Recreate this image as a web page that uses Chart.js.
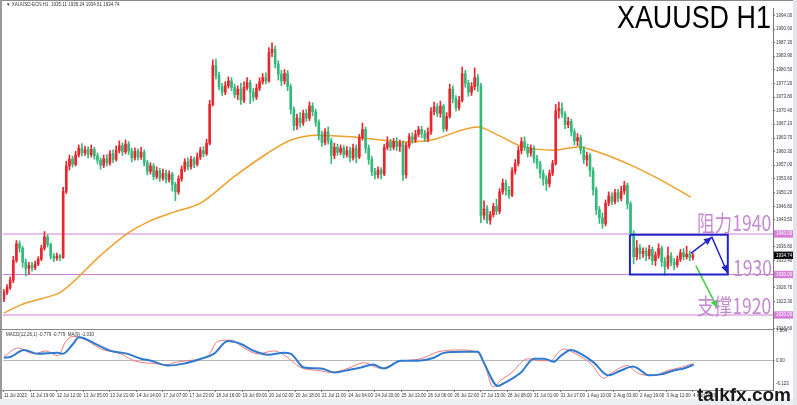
<!DOCTYPE html>
<html><head><meta charset="utf-8">
<script src="https://cdn.jsdelivr.net/npm/chart.js@4/dist/chart.umd.min.js"></script>
<style>
html,body{margin:0;padding:0}
body{width:797px;height:405px;background:#fff;position:relative;overflow:hidden;font-family:"Liberation Sans",Arial,sans-serif}
canvas{position:absolute;left:0}
#main{top:0}
#macd{top:327px}
.abs{position:absolute;white-space:nowrap}
.hdr{left:6px;top:2px;font-size:4.5px;color:#333;line-height:6px}
.title{left:617px;top:1px;font-size:32px;line-height:32px;color:#000;transform:scaleX(0.84);transform-origin:0 0}
.zh{font-family:"Noto Sans CJK SC",sans-serif;font-size:22px;line-height:22px;color:#c48ad0;transform:scaleX(0.8);transform-origin:0 0}
.wm{left:697px;top:385px;font-size:19px;line-height:19px;font-weight:bold;color:#1a1a1a}
.mlab{left:6px;top:332px;font-size:4.5px;color:#333;line-height:6px}
.line{position:absolute;background:#8a8a8a}
</style></head><body>
<canvas id="main" width="797" height="336" style="width:797px;height:336px"></canvas>
<canvas id="macd" width="797" height="78" style="width:797px;height:78px"></canvas>
<div class="line" style="left:0;top:0;width:797px;height:1px"></div>
<div class="line" style="left:0;top:0;width:2px;height:399px;background:#9a9a9a"></div>
<div class="line" style="left:0;top:329px;width:773px;height:1px"></div>
<div class="line" style="left:0;top:390px;width:773px;height:1px"></div>
<div class="line" style="left:0;top:399px;width:797px;height:6px;background:#eceef1"></div>
<div class="line" style="left:793px;top:0;width:4px;height:405px;background:#e4e6ea"></div>
<div class="abs hdr">▼ XAUUSD-ECN,H1&nbsp; 1935.11 1935.24 1934.51 1934.74</div>
<div class="abs mlab">MACD(12,26,1) -0.779 -0.779 &nbsp;MA(9) -1.030</div>
<div class="abs title">XAUUSD H1</div>
<div class="abs zh" style="left:697px;top:210px">阻力1940</div>
<div class="abs zh" style="left:733px;top:255px">1930</div>
<div class="abs zh" style="left:697px;top:293px">支撑1920</div>
<div class="abs wm">talkfx.com</div>
<script>
// ---------- DATA ----------
const opens = [
1924.0,1925.5,1926.8,1928.6,1933.5,1937.6,1936.5,1933.0,1931.5,1932.3,
1931.7,1932.6,1933.8,1936.5,1939.3,1937.4,1934.5,1934.0,1934.6,1934.2,
1950.5,1956.8,1958.5,1957.2,1959.5,1961.2,1960.0,1960.8,1959.6,1960.9,
1959.3,1958.2,1957.0,1958.6,1957.5,1959.8,1958.4,1960.6,1961.8,1960.3,
1962.2,1960.5,1958.8,1960.4,1959.0,1960.2,1957.6,1955.5,1956.8,1954.2,
1955.6,1953.8,1955.0,1953.4,1954.8,1952.2,1950.4,1953.6,1956.0,1957.8,
1956.6,1958.4,1957.2,1959.0,1960.6,1959.8,1962.4,1972.0,1981.6,1979.2,
1976.4,1975.0,1976.6,1977.8,1976.2,1974.4,1975.8,1973.0,1976.2,1977.4,
1975.0,1973.8,1976.0,1977.6,1978.6,1977.8,1984.8,1985.6,1982.0,1979.4,
1977.8,1979.6,1976.4,1970.8,1966.8,1968.6,1967.4,1969.8,1968.6,1971.6,
1970.2,1967.6,1964.4,1962.6,1965.2,1963.0,1959.4,1961.4,1960.2,1961.2,
1959.6,1960.6,1958.8,1961.2,1959.0,1963.8,1965.8,1961.2,1958.4,1955.4,
1954.6,1955.8,1954.8,1961.4,1962.6,1961.4,1962.8,1961.6,1962.4,1954.6,
1961.8,1964.0,1963.2,1964.6,1965.8,1964.8,1963.6,1965.2,1970.2,1971.4,
1969.8,1971.6,1966.0,1969.0,1975.8,1973.4,1971.2,1973.0,1979.6,1977.2,
1975.0,1976.4,1978.6,1976.6,1944.6,1946.2,1943.4,1944.8,1946.8,1945.6,
1950.4,1952.6,1950.8,1949.6,1955.6,1957.4,1960.6,1962.8,1961.4,1960.0,
1961.2,1958.6,1957.4,1955.0,1953.6,1952.4,1955.0,1957.4,1970.4,1971.0,
1969.6,1967.0,1967.8,1965.2,1963.0,1963.8,1960.8,1958.4,1959.4,1955.6,
1951.0,1946.0,1944.0,1942.6,1947.6,1949.4,1948.0,1950.2,1948.8,1950.6,
1952.0,1947.4,1940.2,1934.4,1936.6,1935.2,1935.8,1934.6,1936.2,1933.4,
1934.8,1936.4,1933.2,1932.0,1934.6,1933.0,1932.4,1933.8,1935.4,1934.4,
1935.0,1934.2];
const closes = [
1925.5,1926.8,1928.6,1933.5,1937.6,1936.5,1933.0,1931.5,1932.3,1931.7,
1932.6,1933.8,1936.5,1939.3,1937.4,1934.5,1934.0,1934.6,1934.2,1950.5,
1956.8,1958.5,1957.2,1959.5,1961.2,1960.0,1960.8,1959.6,1960.9,1959.3,
1958.2,1957.0,1958.6,1957.5,1959.8,1958.4,1960.6,1961.8,1960.3,1962.2,
1960.5,1958.8,1960.4,1959.0,1960.2,1957.6,1955.5,1956.8,1954.2,1955.6,
1953.8,1955.0,1953.4,1954.8,1952.2,1950.4,1953.6,1956.0,1957.8,1956.6,
1958.4,1957.2,1959.0,1960.6,1959.8,1962.4,1972.0,1981.6,1979.2,1976.4,
1975.0,1976.6,1977.8,1976.2,1974.4,1975.8,1973.0,1976.2,1977.4,1975.0,
1973.8,1976.0,1977.6,1978.6,1977.8,1984.8,1985.6,1982.0,1979.4,1977.8,
1979.6,1976.4,1970.8,1966.8,1968.6,1967.4,1969.8,1968.6,1971.6,1970.2,
1967.6,1964.4,1962.6,1965.2,1963.0,1959.4,1961.4,1960.2,1961.2,1959.6,
1960.6,1958.8,1961.2,1959.0,1963.8,1965.8,1961.2,1958.4,1955.4,1954.6,
1955.8,1954.8,1961.4,1962.6,1961.4,1962.8,1961.6,1962.4,1954.6,1961.8,
1964.0,1963.2,1964.6,1965.8,1964.8,1963.6,1965.2,1970.2,1971.4,1969.8,
1971.6,1966.0,1969.0,1975.8,1973.4,1971.2,1973.0,1979.6,1977.2,1975.0,
1976.4,1978.6,1976.6,1944.6,1946.2,1943.4,1944.8,1946.8,1945.6,1950.4,
1952.6,1950.8,1949.6,1955.6,1957.4,1960.6,1962.8,1961.4,1960.0,1961.2,
1958.6,1957.4,1955.0,1953.6,1952.4,1955.0,1957.4,1970.4,1971.0,1969.6,
1967.0,1967.8,1965.2,1963.0,1963.8,1960.8,1958.4,1959.4,1955.6,1951.0,
1946.0,1944.0,1942.6,1947.6,1949.4,1948.0,1950.2,1948.8,1950.6,1952.0,
1947.4,1940.2,1934.4,1936.6,1935.2,1935.8,1934.6,1936.2,1933.4,1934.8,
1936.4,1933.2,1932.0,1934.6,1933.0,1932.4,1933.8,1935.4,1934.4,1935.0,
1934.2,1934.74];
const highs = [
1926.3,1927.5,1929.4,1934.5,1938.4,1938.3,1937.0,1933.8,1933.0,1933.0,
1933.3,1934.4,1937.2,1940.6,1939.8,1937.8,1935.2,1935.3,1935.0,1951.5,
1958.0,1959.5,1959.2,1960.4,1962.0,1962.3,1961.7,1961.5,1962.0,1961.4,
1960.0,1958.8,1959.5,1959.6,1960.6,1960.8,1961.8,1963.0,1962.5,1963.2,
1962.8,1961.2,1961.3,1961.0,1961.4,1960.8,1958.2,1957.6,1957.4,1956.6,
1956.2,1956.0,1955.8,1955.6,1955.2,1952.8,1954.4,1956.8,1958.6,1958.8,
1959.2,1959.0,1960.0,1961.4,1961.6,1963.4,1973.0,1983.0,1983.2,1980.0,
1977.2,1977.6,1978.8,1978.6,1977.0,1976.6,1977.2,1977.6,1978.6,1978.0,
1976.0,1977.0,1978.6,1979.6,1979.8,1986.0,1987.2,1986.4,1982.8,1980.4,
1980.6,1980.4,1977.0,1971.4,1969.6,1970.0,1970.6,1970.8,1972.6,1972.4,
1970.8,1968.2,1965.4,1966.0,1966.4,1963.6,1962.4,1962.2,1962.0,1961.8,
1961.6,1961.4,1962.2,1962.0,1964.6,1967.4,1966.4,1962.0,1959.2,1956.2,
1956.6,1956.4,1962.2,1964.0,1963.4,1963.6,1963.8,1963.2,1963.0,1962.6,
1964.8,1965.0,1965.6,1966.6,1966.6,1965.6,1966.2,1971.2,1972.6,1972.2,
1972.8,1972.0,1970.0,1977.0,1976.6,1974.2,1974.0,1981.2,1980.4,1978.0,
1977.4,1981.0,1979.4,1977.2,1948.2,1947.0,1945.6,1947.6,1948.6,1951.2,
1953.6,1953.4,1951.8,1956.4,1958.4,1961.6,1963.8,1964.0,1962.2,1962.0,
1961.8,1959.4,1958.0,1955.8,1954.4,1955.8,1958.2,1972.0,1972.6,1972.4,
1970.2,1968.8,1968.4,1966.0,1964.8,1964.4,1961.6,1960.2,1960.0,1956.4,
1951.6,1946.8,1945.2,1948.4,1950.4,1950.2,1951.0,1951.0,1951.8,1953.0,
1952.6,1948.0,1940.8,1938.4,1937.4,1936.6,1936.6,1937.2,1936.8,1935.6,
1937.6,1937.0,1934.2,1936.8,1935.4,1934.0,1934.6,1936.2,1936.4,1937.0,
1935.8,1935.24];
const lows = [
1923.3,1925.0,1926.3,1928.0,1933.0,1935.5,1931.8,1929.6,1930.0,1930.8,
1931.2,1932.2,1933.4,1936.0,1936.8,1933.8,1933.2,1933.5,1933.4,1934.0,
1950.0,1955.8,1956.5,1956.8,1959.0,1959.3,1959.4,1958.8,1959.0,1958.5,
1957.4,1956.0,1956.4,1956.8,1957.0,1957.6,1958.0,1960.0,1959.4,1959.8,
1959.6,1957.8,1958.2,1958.2,1958.4,1956.8,1954.6,1954.8,1953.4,1953.6,
1953.0,1953.2,1952.6,1952.8,1950.6,1948.2,1949.8,1953.0,1955.4,1955.8,
1956.0,1956.4,1956.8,1958.4,1959.0,1959.4,1962.0,1971.6,1978.2,1975.6,
1974.2,1974.4,1976.0,1975.4,1973.6,1973.2,1972.0,1972.4,1975.6,1972.2,
1972.8,1973.2,1975.4,1977.0,1977.0,1977.4,1983.8,1981.0,1978.0,1976.6,
1977.0,1975.4,1969.6,1965.6,1965.8,1966.4,1966.8,1967.8,1968.0,1969.2,
1966.6,1963.2,1961.6,1962.0,1962.2,1957.4,1958.6,1959.4,1959.6,1958.8,
1959.0,1957.8,1958.2,1957.6,1958.6,1963.2,1960.0,1957.2,1954.4,1953.6,
1953.8,1953.6,1954.4,1960.8,1960.6,1960.8,1960.6,1960.4,1953.2,1953.8,
1961.2,1962.4,1962.6,1964.0,1963.8,1962.8,1962.8,1964.6,1969.4,1969.0,
1968.8,1965.2,1965.4,1968.6,1972.4,1970.4,1970.6,1972.6,1976.2,1974.0,
1974.2,1975.6,1975.2,1942.8,1943.6,1942.6,1942.4,1944.2,1944.8,1945.0,
1949.8,1949.6,1948.8,1949.2,1954.8,1956.8,1959.8,1960.6,1959.0,1959.2,
1957.6,1956.2,1953.8,1952.0,1950.8,1951.6,1954.4,1957.0,1968.6,1968.8,
1966.0,1966.2,1964.2,1962.0,1961.8,1959.8,1957.4,1956.8,1954.2,1949.6,
1944.8,1942.6,1941.4,1942.0,1947.0,1947.2,1947.4,1948.0,1948.2,1949.8,
1946.2,1939.4,1932.6,1933.6,1933.8,1934.2,1933.4,1933.8,1932.4,1932.2,
1934.0,1932.0,1929.8,1931.4,1932.2,1931.2,1931.8,1933.2,1933.6,1933.8,
1933.4,1933.6];
// hour index of each candle (2-hour candles over the hourly axis)
const candleHours = closes.map((_, i) => i * 2);

// moving average (orange)
const maHours  = [0,10.9,23.7,36.6,62.2,79.5,92.4,109,126.4,147.5,169.4,184.1,201.4,222.6,241.8,254.7,273.9,304.1,316.9,331.7,352.8,368.2,382.9,402.2,421.5,440.7];
const maValues = [1920.5,1922.5,1924.0,1925.7,1934.8,1940.2,1943.0,1945.4,1947.7,1954.1,1960.0,1963.2,1964.4,1964.0,1963.2,1962.7,1963.2,1966.4,1964.4,1961.7,1960.7,1961.5,1960.0,1957.0,1953.3,1949.1];

// horizontal levels
const levels = [1940.0, 1930.0, 1920.0];
const currentPrice = 1934.74;

// range box and projection arrows (hour, price)
const boxHours  = [401.6, 464.4, 464.4, 401.6, 401.6];
const boxPrices = [1939.8, 1939.8, 1930.0, 1930.0, 1939.8];
const upArrowHours  = [440.7, 454.2, 464.3];
const upArrowPrices = [1935.2, 1939.2, 1930.3];
const dnArrowHours  = [443.9, 457.8];
const dnArrowPrices = [1932.2, 1921.7];

// MACD pane
const macdHours = [0,4.5,12.8,21.8,34.6,37.8,44.3,48.1,51.3,57.7,68.6,79.5,87.9,94.3,105.2,115.5,126.4,134.7,143.7,152,160.4,169.4,179.6,184.1,192.5,203.4,211.7,222.6,229,236.7,243.8,254.7,265.6,275.9,282.3,295.1,304.1,307.9,316.9,320.8,331.7,340,346.4,352.8,357.3,363.7,370.2,378.5,387.5,395.8,403.5,406.7,413.8,421.5,429.8,436.2,442.6];
const macdBlue  = [0.77,1.03,2.82,1.79,2.05,1.79,4.36,6.15,5.90,4.62,2.56,1.79,0.51,0,-1.28,-0.77,0.51,1.79,5.13,4.36,2.56,1.54,2.05,1.79,-1.79,-2.05,-3.08,-2.31,-1.79,-1.03,-2.05,0,0,0.77,2.05,2.31,2.31,-0.51,-6.67,-5.90,-3.08,0.51,0.51,-0.26,1.28,2.82,1.79,-0.51,-3.85,-2.56,-1.54,-2.05,-3.85,-3.59,-2.56,-2.05,-1.03];
const sigHours  = [0,9.0,19.2,26.9,34.6,39.8,44.9,53.9,62.2,75.1,83.4,96.2,105.2,109.1,118.0,130.9,137.3,145.6,154.0,163.0,173.2,179.6,190.5,201.4,209.8,220.7,230.9,241.8,252.8,267.5,278.4,293.2,304.1,309.2,313.7,318.8,325.2,336.2,344.5,350.9,355.4,359.2,365.7,376.6,384.9,389.4,400.3,404.2,408.6,417.0,426.0,434.3,441.9];
const macdRed   = [1.03,3.33,1.79,2.56,1.28,5.13,6.41,5.13,3.08,1.79,0,-0.77,-1.03,-0.51,0,1.28,5.13,5.38,3.33,1.79,2.56,1.54,-1.79,-2.56,-3.08,-2.05,-0.51,-2.05,-0.26,0.51,2.31,2.82,2.05,-2.05,-6.92,-5.13,-3.33,0.51,0,0,2.05,3.08,2.05,-0.77,-4.62,-3.33,-1.28,-2.56,-3.59,-3.85,-2.56,-1.79,-0.77];

// axis ticks
const yTickValues = [1994.00,1990.60,1987.30,1983.90,1980.50,1977.20,1973.80,1970.40,1967.10,1963.70,1960.30,1957.00,1953.60,1950.20,1946.80,1943.50,1940.00,1936.80,1934.74,1933.40,1930.00,1926.70,1923.30,1920.00,1916.60];
const macdTickValues = [7.864, 0, -6.123];
const macdTickLabels = ['7.864', '0.00', '-6.123'];
const xTickHours = [0,17,34,51,68,85,102,119,136,153,170,187,204,221,238,255,272,289,306,323,340,357,374,391,408,425,442];
const xTickLabels = ['11 Jul 2023','11 Jul 19:00','12 Jul 12:00','13 Jul 05:00','13 Jul 21:00','14 Jul 14:00','17 Jul 07:00','17 Jul 23:00','18 Jul 16:00','19 Jul 09:00','20 Jul 02:00','20 Jul 18:00','21 Jul 11:00','24 Jul 04:00','24 Jul 20:00','25 Jul 13:00','26 Jul 06:00','26 Jul 22:00','27 Jul 15:00','28 Jul 08:00','31 Jul 01:00','31 Jul 17:00','1 Aug 10:00','2 Aug 03:00','2 Aug 19:00','3 Aug 12:00','4 Aug 05:00'];

// ---------- STYLE ----------
const X_MIN = -0.6, X_MAX = 493.4;
const Y_MIN = 1916.3, Y_MAX = 1995.8;
const UP = '#e8262e', DOWN = '#36b87c';
const LEVEL = '#cf80d6';
Chart.defaults.font.family = '"Liberation Sans", Arial, sans-serif';

const pts = (xs, ys) => xs.map((x, i) => ({x, y: ys[i]}));
const candleColors = closes.map((c, i) => c >= opens[i] ? UP : DOWN);

const arrowPlugin = {
  id: 'arrowHeads',
  afterDatasetsDraw(chart) {
    const ctx = chart.ctx;
    chart.data.datasets.forEach((ds, i) => {
      if (!ds.arrowAt) return;
      const el = chart.getDatasetMeta(i).data;
      ds.arrowAt.forEach(j => {
        const a = el[j - 1], b = el[j];
        const ang = Math.atan2(b.y - a.y, b.x - a.x);
        const L = 8, W = 3.5;
        ctx.save();
        ctx.fillStyle = ds.borderColor;
        ctx.beginPath();
        ctx.moveTo(b.x, b.y);
        ctx.lineTo(b.x - L * Math.cos(ang) + W * Math.sin(ang), b.y - L * Math.sin(ang) - W * Math.cos(ang));
        ctx.lineTo(b.x - L * Math.cos(ang) - W * Math.sin(ang), b.y - L * Math.sin(ang) + W * Math.cos(ang));
        ctx.closePath();
        ctx.fill();
        ctx.restore();
      });
    });
  }
};

const lineDs = (data, color, width, extra) => Object.assign({
  type: 'line', data, borderColor: color, borderWidth: width,
  pointRadius: 0, fill: false, tension: 0
}, extra || {});

const mainDatasets = [
  lineDs(pts(boxHours, boxPrices), '#2323c8', 2),
  lineDs(pts(upArrowHours, upArrowPrices), '#2323c8', 1.5, {arrowAt: [1, 2]}),
  lineDs(pts(dnArrowHours, dnArrowPrices), '#3fcf3f', 1.5, {arrowAt: [1]}),
  {
    type: 'bar', grouped: false, barThickness: 2, minBarLength: 1, borderWidth: 0,
    data: candleHours.map((h, i) => ({x: h, y: [opens[i], closes[i]]})),
    backgroundColor: candleColors
  },
  {
    type: 'bar', grouped: false, barThickness: 1, borderWidth: 0,
    data: candleHours.map((h, i) => ({x: h, y: [lows[i], highs[i]]})),
    backgroundColor: candleColors
  },
  lineDs(pts(maHours, maValues), '#f0a02a', 1.5, {cubicInterpolationMode: 'monotone'}),
  ...levels.map(v => lineDs([{x: X_MIN, y: v}, {x: X_MAX, y: v}], LEVEL, 1))
];

const isLevel = v => levels.some(l => Math.abs(l - v) < 1e-6);
const isCur = v => Math.abs(v - currentPrice) < 1e-6;

new Chart(document.getElementById('main'), {
  type: 'bar',
  data: {datasets: mainDatasets},
  options: {
    responsive: false, animation: false, events: [],
    layout: {padding: {left: 3, top: 8, right: 0, bottom: 6}},
    plugins: {legend: {display: false}, tooltip: {enabled: false}},
    scales: {
      x: {type: 'linear', min: X_MIN, max: X_MAX, display: false, offset: false},
      y: {
        position: 'right', min: Y_MIN, max: Y_MAX,
        afterFit(s) { s.width = 24; },
        afterBuildTicks(s) { s.ticks = yTickValues.map(v => ({value: v})); },
        grid: {drawOnChartArea: false, tickLength: 2, color: '#777'},
        border: {display: true, color: '#777'},
        ticks: {
          autoSkip: false, padding: 1,
          font: {size: 4.5},
          color: c => (isLevel(c.tick.value) || isCur(c.tick.value)) ? '#fff' : '#333',
          callback: v => Number(v).toFixed(2),
          showLabelBackdrop: c => isLevel(c.tick.value) || isCur(c.tick.value),
          backdropColor: c => isCur(c.tick.value) ? '#000' : '#d67fd9',
          backdropPadding: {top: 1, bottom: 1, left: 2, right: 4}
        }
      }
    }
  },
  plugins: [arrowPlugin]
});

new Chart(document.getElementById('macd'), {
  type: 'line',
  data: {datasets: [
    lineDs(pts(macdHours, macdBlue), '#2f7ad0', 2, {cubicInterpolationMode: 'monotone'}),
    lineDs(pts(sigHours, macdRed), '#ef7a7a', 1, {cubicInterpolationMode: 'monotone'})
  ]},
  options: {
    responsive: false, animation: false, events: [],
    layout: {padding: {left: 3, top: 3, right: 0, bottom: 0}},
    plugins: {legend: {display: false}, tooltip: {enabled: false}},
    scales: {
      x: {
        type: 'linear', min: X_MIN, max: X_MAX, offset: false,
        afterFit(s) { s.height = 15; },
        afterBuildTicks(s) { s.ticks = xTickHours.map(v => ({value: v})); },
        grid: {drawOnChartArea: false, tickLength: 2, color: '#777'},
        border: {display: false},
        ticks: {autoSkip: false, maxRotation: 0, align: 'start', padding: 1, font: {size: 4.5}, color: '#333',
          callback: (v, i) => xTickLabels[i]}
      },
      y: {
        position: 'right', min: -7.69, max: 7.864,
        afterFit(s) { s.width = 24; },
        afterBuildTicks(s) { s.ticks = macdTickValues.map(v => ({value: v})); },
        grid: {drawOnChartArea: true, tickLength: 2, color: c => (c.tick && c.tick.value === 0) ? '#b8b8b8' : 'rgba(0,0,0,0)'},
        border: {display: true, color: '#777'},
        ticks: {autoSkip: false, padding: 1, font: {size: 4.5}, color: '#333',
          callback: (v, i) => macdTickLabels[i]}
      }
    }
  }
});
</script>
</body></html>
